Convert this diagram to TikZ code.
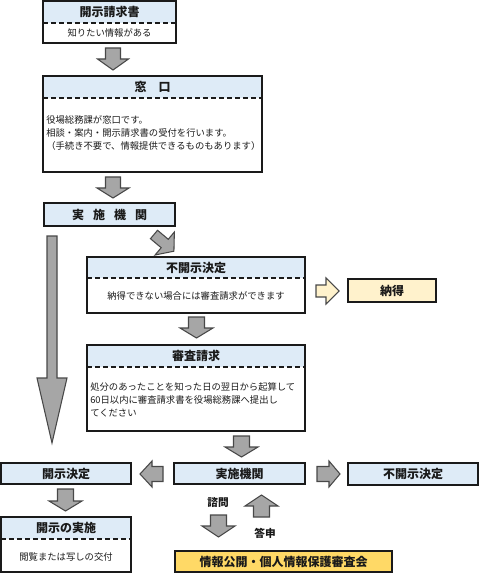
\documentclass[tikz,border=0pt]{standalone}
\usepackage{fontspec}
\newfontfamily\jp{Noto Sans CJK JP}
\definecolor{hdrblue}{HTML}{DEEBF7}
\definecolor{paleyel}{HTML}{FFF2CC}
\definecolor{goldyel}{HTML}{FFD966}
\definecolor{arrgray}{HTML}{A6A6A6}
\definecolor{inkc}{HTML}{1A1A1A}
\tikzset{
  boxln/.style={draw=inkc, line width=1.3pt},
  dashln/.style={draw=inkc, line width=1.1pt, dash pattern=on 4pt off 2pt},
  hdrtxt/.style={font=\jp\bfseries\fontsize{9}{11}\selectfont, text=inkc, inner sep=0pt},
  smalltxt/.style={font=\jp\bfseries\fontsize{8}{10}\selectfont, text=inkc, inner sep=0pt},
  bodytxt/.style={font=\jp\fontsize{7}{9.75}\selectfont, text=inkc, inner sep=0pt, align=left},
  grayarr/.style={fill=arrgray, draw=inkc!80, line width=0.8pt, line join=miter},
  palearr/.style={fill=paleyel, draw=inkc!80, line width=0.8pt, line join=miter},
}
% x, y, angle, length, shaft half, head half, head length, style
\newcommand\blockarrow[8]{%
  \begin{scope}[shift={(#1,#2)},rotate=#3]
    \draw[#8] (0,-#5) -- ({#4-#7},-#5) -- ({#4-#7},-#6) -- (#4,0) -- ({#4-#7},#6) -- ({#4-#7},#5) -- (0,#5) -- cycle;
  \end{scope}}
% x1,y1,x2,y2,ydash
\newcommand\twobox[5]{%
  \fill[hdrblue] (#1,#2) rectangle (#3,#5);
  \draw[dashln] (#1,#5) -- (#3,#5);
  \draw[boxln] (#1,#2) rectangle (#3,#4);}
% x1,y1,x2,y2,fill
\newcommand\onebox[5]{%
  \filldraw[boxln, fill=#5] (#1,#2) rectangle (#3,#4);}
\begin{document}
\begin{tikzpicture}[x=0.75pt, y=-0.75pt]
\useasboundingbox (0,0) rectangle (480,573);

% A
\twobox{43}{1}{176}{43}{23}
\node[hdrtxt] (aH) at (109.5,12) {開示請求書};
\node[bodytxt] (aB) at (109.5,33) {知りたい情報がある};
\blockarrow{113}{48}{-90}{22}{7.5}{15.5}{11}{grayarr}

% B
\twobox{43}{76}{262}{172}{98}
\node[hdrtxt] (bH) at (152.5,87) {窓　口};
\node[bodytxt, anchor=west] (bB) at (46,133) {役場総務課が窓口です。\\相談・案内・開示請求書の受付を行います。\\（手続き不要で、情報提供できるものもあります）};
\blockarrow{113}{177}{-90}{21}{7.5}{16}{10}{grayarr}

% C
\onebox{44}{203}{175}{226}{hdrblue}
\node[hdrtxt] (cH) at (109.5,214.5) {実\hspace{6.75pt}施\hspace{6.75pt}機\hspace{6.75pt}関};

% big arrow
\blockarrow{52}{236}{-90}{207}{5}{15}{65}{grayarr}
% diagonal arrow
\blockarrow{154}{234.5}{-40}{26}{5.5}{15}{12}{grayarr}

% D
\twobox{87}{257}{305}{313}{278}
\node[hdrtxt] (dH) at (196,268) {不開示決定};
\node[bodytxt] (dB) at (196,296) {納得できない場合には審査請求ができます};
\blockarrow{316}{291}{0}{23}{6}{13}{13}{palearr}
\onebox{348}{279}{436}{302}{paleyel}
\node[hdrtxt] (nH) at (392,290.5) {納得};
\blockarrow{196.5}{317}{-90}{21}{8}{16.5}{10}{grayarr}

% E
\twobox{87}{345}{305}{431}{367}
\node[hdrtxt] (eH) at (196,356) {審査請求};
\node[bodytxt, anchor=west] (eB) at (90,400) {処分のあったことを知った日の翌日から起算して\\60日以内に審査請求書を役場総務課へ提出し\\てください};
\blockarrow{241.5}{436}{-90}{21}{8}{16.5}{10}{grayarr}

% bottom row
\onebox{1}{463}{131}{484}{hdrblue}
\node[hdrtxt] (fH) at (66,473.5) {開示決定};
\onebox{174}{463}{305}{484}{hdrblue}
\node[hdrtxt] (gH) at (239.5,473.5) {実施機関};
\onebox{348}{463}{478}{485}{hdrblue}
\node[hdrtxt] (hH) at (413,474) {不開示決定};
\blockarrow{163}{474}{180}{23}{7.5}{13}{12}{grayarr}
\blockarrow{317}{474}{0}{23}{7.5}{13}{11}{grayarr}

% I
\blockarrow{65.5}{489}{-90}{22}{8}{16.5}{10}{grayarr}
\twobox{1}{517}{131}{572}{539}
\node[hdrtxt] (iH) at (66,528) {開示の実施};
\node[bodytxt] (iB) at (66,557) {閲覧または写しの交付};

% consultation
\node[smalltxt] (sm) at (218,502) {諮問};
\blockarrow{218.5}{515}{-90}{22}{8}{16.5}{11}{grayarr}
\blockarrow{261.5}{517}{90}{22}{8}{16.5}{11}{grayarr}
\node[smalltxt] (tm) at (265,533) {答申};

% J
\onebox{175}{551}{392}{572}{goldyel}
\node[hdrtxt] (jH) at (283.5,561.5) {情報公開・個人情報保護審査会};
\end{tikzpicture}
\end{document}
